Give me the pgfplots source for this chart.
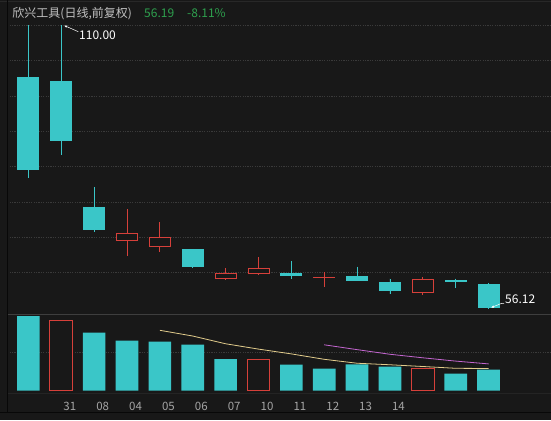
\documentclass[border=0pt]{standalone}
\usepackage{pgfplots}
\pgfplotsset{compat=1.18}
\usepgfplotslibrary{statistics}
\usetikzlibrary{arrows.meta}
\usepackage{fontspec}
\setmainfont{Noto Sans CJK SC}

\definecolor{bg}{RGB}{24,24,24}
\definecolor{kc}{RGB}{58,198,200}
\definecolor{kr}{RGB}{214,64,58}
\definecolor{gridc}{RGB}{58,58,58}
\definecolor{ma5}{RGB}{226,204,140}
\definecolor{ma10}{RGB}{196,102,208}
\definecolor{titlec}{RGB}{192,192,192}
\definecolor{greenc}{RGB}{46,160,78}
\definecolor{datec}{RGB}{165,165,165}
\definecolor{topl}{RGB}{40,40,40}
\definecolor{sepl}{RGB}{62,62,62}
\definecolor{botl}{RGB}{36,36,36}
\definecolor{darkl}{RGB}{8,8,8}

% candle: position, open, high, low, close
\newcommand{\dn}[5]{\addplot[draw=kc, fill=kc, line width=0.9pt,
  boxplot prepared={draw position=#1, lower whisker=#4, lower quartile=#5,
  median=#5, upper quartile=#2, upper whisker=#3}] coordinates {};}
\newcommand{\up}[5]{\addplot[draw=kr, fill=bg, line width=0.9pt,
  boxplot prepared={draw position=#1, lower whisker=#4, lower quartile=#2,
  median=#2, upper quartile=#5, upper whisker=#3}] coordinates {};}

\begin{document}
\begin{tikzpicture}[x=1pt,y=1pt]
\fill[bg] (0,0) rectangle (551,420);
\path[use as bounding box] (0,0) rectangle (551,420);

% price panel
\begin{axis}[at={(7.3pt,105.3pt)}, anchor=south west, scale only axis,
  width=543.7pt, height=312.7pt,
  xmin=0.358, xmax=16.90, ymin=54.84, ymax=114.38,
  axis line style={draw=none}, tick style={draw=none},
  xtick=\empty, ytick={62.855,69.59,76.325,83.06,89.795,96.53,103.265,110},
  yticklabels={}, ymajorgrids, major grid style={gridc, dash pattern=on 1.2pt off 1.2pt},
  boxplot/draw direction=y, boxplot/box extend=0.64, boxplot/whisker extend=0]
\dn{1}{100.1}{110.0}{80.9}{82.45}
\dn{2}{99.2}{110.0}{85.25}{88.0}
\dn{3}{75.2}{79.2}{70.6}{71.1}
\up{4}{68.9}{74.9}{66.1}{70.4}
\up{5}{67.9}{72.4}{66.8}{69.6}
\dn{6}{67.2}{67.2}{63.7}{64.1}
\up{7}{61.7}{63.7}{61.5}{62.7}
\up{8}{62.65}{65.8}{62.6}{63.7}
\dn{9}{62.6}{65.1}{61.6}{62.3}
\up{10}{61.85}{63.0}{60.2}{61.95}
\dn{11}{62.2}{64.0}{61.3}{61.3}
\dn{12}{60.9}{61.7}{58.8}{59.55}
\up{13}{59.0}{62.0}{58.5}{61.6}
\dn{14}{61.45}{61.7}{60.0}{61.15}
\dn{15}{60.6}{60.9}{56.12}{56.19}
\end{axis}

% volume panel
\begin{axis}[at={(7.3pt,25pt)}, anchor=south west, scale only axis,
  width=543.7pt, height=80.3pt,
  xmin=0.358, xmax=16.90, ymin=-1.29, ymax=22.8,
  axis line style={draw=none}, tick style={draw=none}, major tick length=0pt,
  ytick={11.4}, yticklabels={}, ymajorgrids,
  major grid style={gridc, dash pattern=on 1.2pt off 1.2pt},
  xtick={2.26,3.26,4.26,5.26,6.26,7.26,8.26,9.26,10.26,11.26,12.26},
  xticklabels={31,08,04,05,06,07,10,11,12,13,14},
  xticklabel style={font=\fontsize{11.5}{12}\selectfont, text=datec,
    anchor=base, yshift=-15.9pt},
  ybar, bar width=0.69]
\addplot[fill=kc, draw=none, bar shift=0pt] coordinates {
(1,22.4) (3,17.4) (4,15.0) (5,14.7) (6,13.8) (7,9.5) (9,7.8) (10,6.6)
(11,7.9) (12,7.2) (14,5.1) (15,6.3)};
\addplot[fill=bg, draw=kr, line width=0.9pt, bar shift=0pt] coordinates {
(2,21.1) (8,9.4) (13,6.8)};
\addplot[sharp plot, ma5, line width=0.8pt] coordinates {
(5,18.12) (6,16.40) (7,14.08) (8,12.48) (9,11.04) (10,9.42) (11,8.24)
(12,7.78) (13,7.26) (14,6.72) (15,6.66)};
\addplot[sharp plot, ma10, line width=0.8pt] coordinates {
(10,13.77) (11,12.32) (12,10.93) (13,9.87) (14,8.88) (15,8.04)};
\end{axis}

% frame lines
\draw[topl] (0,418.5) -- (551,418.5);
\draw[sepl, line width=0.8pt] (7.3,105.3) -- (551,105.3);
\draw[botl] (7.3,27) -- (551,27);
\draw[darkl, line width=0.8pt] (0,7.7) -- (551,7.7);
\draw[darkl, line width=0.8pt] (7.3,420) -- (7.3,7.7);

% title
\node[anchor=base west, inner sep=0, text=titlec, font=\fontsize{12}{14}\selectfont]
  at (12.3,402.3) {欣兴工具(日线,前复权)};
\node[anchor=base west, inner sep=0, text=greenc, font=\fontsize{12}{14}\selectfont]
  at (144,402.3) {56.19};
\node[anchor=base west, inner sep=0, text=greenc, font=\fontsize{12}{14}\selectfont]
  at (187,402.3) {-8.11\%};

% max / min marks
\draw[white, line width=0.5pt, -{Latex[length=3pt,width=2.5pt]}] (78.3,388.3) -- (64,394.6);
\node[anchor=west, inner sep=0, white, font=\fontsize{12}{14}\selectfont] at (79,385) {110.00};
\draw[white, line width=0.5pt, -{Latex[length=3pt,width=2.5pt]}] (504,116.7) -- (501.7,116.7) -- (491,112.3);
\node[anchor=west, inner sep=0, white, font=\fontsize{12}{14}\selectfont] at (505,121) {56.12};
\end{tikzpicture}
\end{document}
